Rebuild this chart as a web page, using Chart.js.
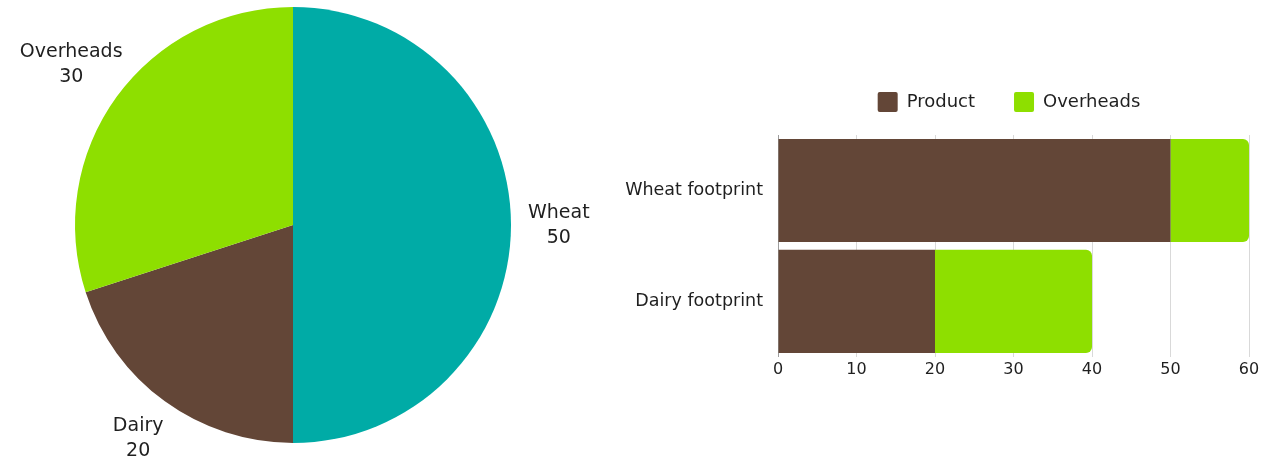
<!DOCTYPE html>
<html>
<head>
<meta charset="utf-8">
<script src="https://cdn.jsdelivr.net/npm/chart.js@4.4.0/dist/chart.umd.min.js"></script>
<style>
  html, body { margin: 0; padding: 0; background: #fff; }
  #wrap { position: relative; width: 1273px; height: 459px; }
  #pieBox { position: absolute; left: 0; top: 0; width: 610px; height: 459px; }
  #barBox { position: absolute; left: 610px; top: 0; width: 663px; height: 459px; }
</style>
</head>
<body>
<div id="wrap">
  <div id="pieBox"><canvas id="graficoPizza"></canvas></div>
  <div id="barBox"><canvas id="graficoBarras"></canvas></div>
</div>
<script>
// dados da pizza
const fatias = ['Wheat', 'Dairy', 'Overheads'];
const valoresFatias = [50, 20, 30];
const coresFatias = ['#00aba6', '#634637', '#8edf00'];

// dados das barras
const categorias = ['Wheat footprint', 'Dairy footprint'];
const valoresProduto = [50, 20];
const valoresOverheads = [10, 20];
const ticksX = [0, 10, 20, 30, 40, 50, 60];

const fonte = '"DejaVu Sans", "Open Sans", sans-serif';
const corTexto = '#1f1f1f';

// rótulos fora das fatias: a caixa do texto encosta na direção do meio da fatia
const rotulosPizza = {
  id: 'rotulosPizza',
  afterDatasetsDraw(chart) {
    const ctx = chart.ctx;
    const meta = chart.getDatasetMeta(0);
    ctx.save();
    ctx.font = '19px ' + fonte;
    ctx.fillStyle = corTexto;
    ctx.textAlign = 'center';
    ctx.textBaseline = 'middle';
    meta.data.forEach((arc, i) => {
      const p = arc.getProps(['x', 'y', 'startAngle', 'endAngle', 'outerRadius'], true);
      const nome = chart.data.labels[i];
      const valor = String(chart.data.datasets[0].data[i]);
      const meio = (p.startAngle + p.endAngle) / 2;
      const cx = Math.cos(meio), cy = Math.sin(meio);
      const hw = Math.max(ctx.measureText(nome).width, ctx.measureText(valor).width) / 2;
      const hh = 23;
      const ext = Math.min(Math.abs(cx) > 1e-6 ? hw / Math.abs(cx) : Infinity,
                           Math.abs(cy) > 1e-6 ? hh / Math.abs(cy) : Infinity);
      const r = p.outerRadius + 17 + ext;
      const px = p.x + cx * r;
      const py = p.y + cy * r;
      ctx.fillText(nome, px, py - 12);
      ctx.fillText(valor, px, py + 13);
    });
    ctx.restore();
  }
};

// legenda centrada sobre a área do gráfico, um pouco acima dela
const legendaNoCentro = {
  id: 'legendaNoCentro',
  afterLayout(chart) {
    const l = chart.legend;
    if (!l) return;
    const a = chart.chartArea;
    const pad = l.options.labels.padding;
    l.left = a.left;
    l.right = a.right - 9;
    l.width = l.right - l.left;
    l.top = a.top - 43 - pad;
    l.bottom = l.top + l.height;
  }
};

new Chart(document.getElementById('graficoPizza'), {
  type: 'pie',
  data: {
    labels: fatias,
    datasets: [{
      data: valoresFatias,
      backgroundColor: coresFatias,
      borderWidth: 0
    }]
  },
  options: {
    responsive: true,
    maintainAspectRatio: false,
    animation: false,
    layout: { padding: { top: 7, bottom: 16, left: 75, right: 99 } },
    plugins: {
      legend: { display: false },
      tooltip: { enabled: false }
    }
  },
  plugins: [rotulosPizza]
});

new Chart(document.getElementById('graficoBarras'), {
  type: 'bar',
  data: {
    labels: categorias,
    datasets: [
      {
        label: 'Product',
        data: valoresProduto,
        backgroundColor: '#634637',
        borderRadius: 0,
        barPercentage: 0.93,
        categoryPercentage: 1
      },
      {
        label: 'Overheads',
        data: valoresOverheads,
        backgroundColor: '#8edf00',
        borderRadius: { topLeft: 0, bottomLeft: 0, topRight: 6, bottomRight: 6 },
        borderSkipped: false,
        barPercentage: 0.93,
        categoryPercentage: 1
      }
    ]
  },
  options: {
    indexAxis: 'y',
    responsive: true,
    maintainAspectRatio: false,
    animation: false,
    layout: { padding: { top: 66, right: 24, bottom: 77, left: 0 } },
    plugins: {
      legend: {
        position: 'top',
        labels: {
          boxWidth: 20,
          boxHeight: 20,
          useBorderRadius: true,
          borderRadius: 2,
          padding: 39,
          color: corTexto,
          font: { family: fonte, size: 18 }
        }
      },
      tooltip: { enabled: false }
    },
    scales: {
      x: {
        stacked: true,
        min: 0,
        max: 60,
        afterBuildTicks(scale) { scale.ticks = ticksX.map(v => ({ value: v })); },
        ticks: { color: corTexto, font: { family: fonte, size: 16 }, padding: 3 },
        grid: { color: '#d9d9d9', drawTicks: false },
        border: { display: false }
      },
      y: {
        stacked: true,
        grid: { display: false, drawTicks: false },
        border: { color: '#9e9e9e' },
        ticks: { color: corTexto, font: { family: fonte, size: 17.5 }, padding: 15 },
        afterFit(scale) { scale.width = 168; }
      }
    }
  },
  plugins: [legendaNoCentro]
});
</script>
</body>
</html>
